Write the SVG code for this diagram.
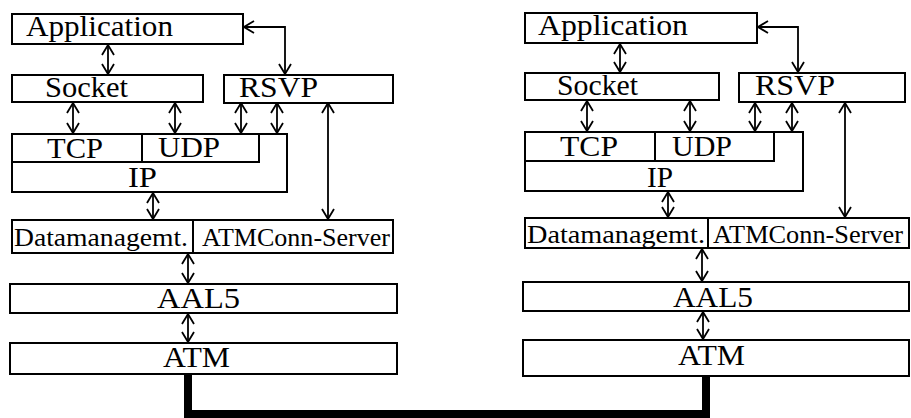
<svg xmlns="http://www.w3.org/2000/svg" width="911" height="418" viewBox="0 0 911 418">
<style>
.box{fill:#fff;stroke:#000;stroke-width:2}
.c{fill:none;stroke:#000;stroke-width:1.8}
.thick{fill:none;stroke:#000;stroke-width:8;stroke-linejoin:miter}
text{font-family:"Liberation Serif","DejaVu Serif",serif;font-size:30px;fill:#000}
.s{font-size:25px}
</style>
<defs>
<marker id="ah" viewBox="0 0 12 14" refX="11" refY="7" markerWidth="12" markerHeight="14" markerUnits="userSpaceOnUse" orient="auto-start-reverse">
<path d="M1,1 L11,7 L1,13" fill="none" stroke="#000" stroke-width="1.8"/>
</marker>
</defs>
<rect width="911" height="418" fill="#fff"/>

<g id="connectors">
<g class="c" marker-start="url(#ah)" marker-end="url(#ah)">
<path d="M108,45 V74"/>
<path d="M244,27 H285 V74"/>
<path d="M73,103 V133"/>
<path d="M175,103 V133"/>
<path d="M241,103 V133"/>
<path d="M277,103 V133"/>
<path d="M328,103 V219"/>
<path d="M153,193 V219"/>
<path d="M188,254 V283"/>
<path d="M188,314 V342"/>
<path d="M620,44 V72"/>
<path d="M758,27 H798 V72"/>
<path d="M587,101 V131"/>
<path d="M690,101 V131"/>
<path d="M755,103 V131"/>
<path d="M792,103 V131"/>
<path d="M845,103 V217"/>
<path d="M668,192 V217"/>
<path d="M702,249 V281"/>
<path d="M703,312 V339"/>
</g>
<path id="link" class="thick" d="M188,375 V414 H706 V377"/>
</g>

<g id="left-application"><rect class="box" x="12" y="14" width="231" height="30"/><text x="26" y="36" textLength="147" lengthAdjust="spacingAndGlyphs">Application</text></g>
<g id="left-socket"><rect class="box" x="12" y="75" width="191" height="27"/><text x="45" y="97" textLength="83" lengthAdjust="spacingAndGlyphs">Socket</text></g>
<g id="left-rsvp"><rect class="box" x="224" y="75" width="169" height="28"/><text x="239" y="97" textLength="79" lengthAdjust="spacingAndGlyphs">RSVP</text></g>
<g id="left-ip"><rect class="box" x="12" y="134" width="275" height="58"/><text x="128" y="187" textLength="29" lengthAdjust="spacingAndGlyphs">IP</text></g>
<g id="left-tcp"><rect class="box" x="12" y="134" width="130" height="28"/><text x="47" y="158" textLength="56" lengthAdjust="spacingAndGlyphs">TCP</text></g>
<g id="left-udp"><rect class="box" x="142" y="134" width="117" height="28"/><text x="158" y="157" textLength="62" lengthAdjust="spacingAndGlyphs">UDP</text></g>
<g id="left-datamanagement"><rect class="box" x="12" y="220" width="181" height="33"/><text class="s" x="14" y="246" textLength="174" lengthAdjust="spacingAndGlyphs">Datamanagemt.</text></g>
<g id="left-atmconn"><rect class="box" x="193" y="220" width="200" height="33"/><text class="s" x="202" y="246" textLength="188" lengthAdjust="spacingAndGlyphs">ATMConn-Server</text></g>
<g id="left-aal5"><rect class="box" x="10" y="284" width="387" height="29"/><text x="157" y="308" textLength="83" lengthAdjust="spacingAndGlyphs">AAL5</text></g>
<g id="left-atm"><rect class="box" x="10" y="343" width="387" height="31"/><text x="163" y="367" textLength="67" lengthAdjust="spacingAndGlyphs">ATM</text></g>

<g id="right-application"><rect class="box" x="525" y="13" width="232" height="30"/><text x="538" y="35" textLength="150" lengthAdjust="spacingAndGlyphs">Application</text></g>
<g id="right-socket"><rect class="box" x="525" y="73" width="194" height="27"/><text x="557" y="95" textLength="81" lengthAdjust="spacingAndGlyphs">Socket</text></g>
<g id="right-rsvp"><rect class="box" x="739" y="73" width="166" height="29"/><text x="755" y="95" textLength="80" lengthAdjust="spacingAndGlyphs">RSVP</text></g>
<g id="right-ip"><rect class="box" x="525" y="132" width="278" height="59"/><text x="647" y="187" textLength="26" lengthAdjust="spacingAndGlyphs">IP</text></g>
<g id="right-tcp"><rect class="box" x="525" y="132" width="130" height="29"/><text x="560" y="156" textLength="58" lengthAdjust="spacingAndGlyphs">TCP</text></g>
<g id="right-udp"><rect class="box" x="655" y="132" width="119" height="29"/><text x="672" y="156" textLength="60" lengthAdjust="spacingAndGlyphs">UDP</text></g>
<g id="right-datamanagement"><rect class="box" x="525" y="218" width="183" height="30"/><text class="s" x="527" y="243" textLength="178" lengthAdjust="spacingAndGlyphs">Datamanagemt.</text></g>
<g id="right-atmconn"><rect class="box" x="708" y="218" width="201" height="30"/><text class="s" x="713" y="243" textLength="190" lengthAdjust="spacingAndGlyphs">ATMConn-Server</text></g>
<g id="right-aal5"><rect class="box" x="523" y="282" width="386" height="29"/><text x="673" y="307" textLength="80" lengthAdjust="spacingAndGlyphs">AAL5</text></g>
<g id="right-atm"><rect class="box" x="523" y="340" width="386" height="36"/><text x="678" y="365" textLength="67" lengthAdjust="spacingAndGlyphs">ATM</text></g>
</svg>
